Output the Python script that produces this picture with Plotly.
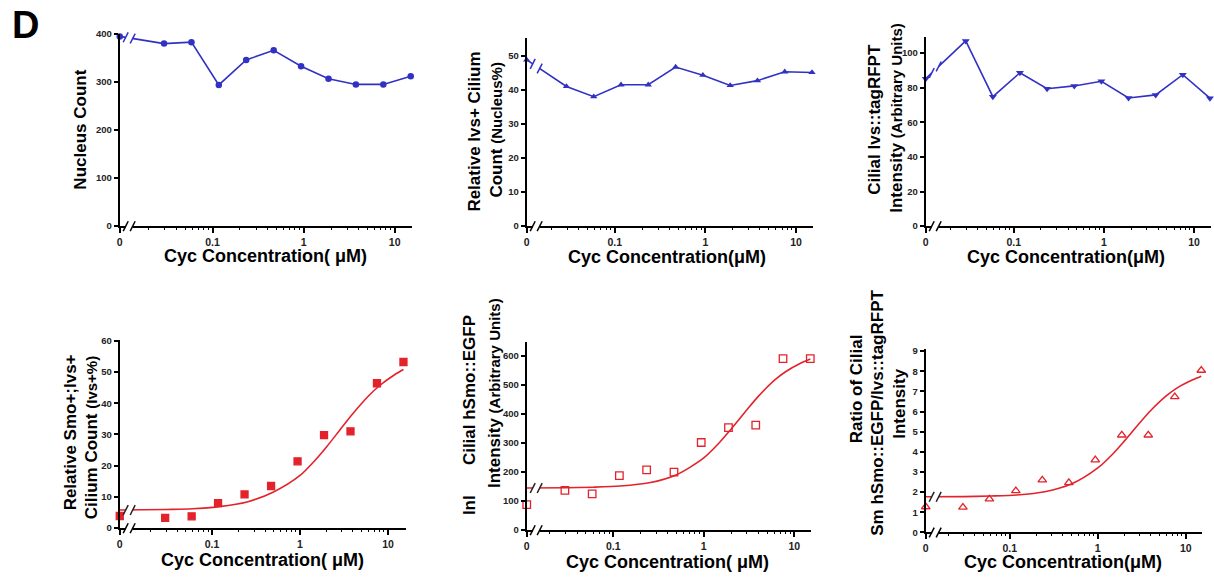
import math
import plotly.graph_objects as go

W, H = 1214, 583

# ---------------- data ----------------
conc = [0, 0.0293, 0.0586, 0.117, 0.234, 0.469, 0.9375, 1.875, 3.75, 7.5, 15]
nucleus_count = [395, 380, 383, 294, 346, 366, 333, 307, 295, 295, 312]
ivs_cilium_pct = [48.8, 41.0, 38.0, 41.5, 41.5, 46.7, 44.3, 41.3, 42.7, 45.3, 45.1]
ivs_rfpt_intensity = [85.2, 107.0, 74.8, 88.6, 79.4, 81.0, 83.7, 74.0, 75.8, 87.5, 73.9]
smo_ivs_pct = [3.9, 3.3, 3.8, 8.0, 10.8, 13.5, 21.4, 29.8, 31.0, 46.4, 53.2]
hsmo_egfp_intensity = [88, 137, 125, 188, 208, 200, 302, 353, 362, 591, 591]
ratio_egfp_rfpt = [1.27, 1.25, 1.66, 2.07, 2.60, 2.47, 3.60, 4.83, 4.83, 6.73, 8.04]

fit_conc = [0, 0.03, 0.06, 0.12, 0.25, 0.5, 1, 1.5, 2, 3, 4, 6, 8, 12, 15]
fit_smo_ivs = [5.8, 6.0, 6.2, 6.9, 8.4, 11.6, 16.9, 21.9, 26.0, 32.3, 36.7, 42.3, 45.6, 49.2, 50.8]
fit_hsmo = [145, 146, 148, 152, 163, 191, 249, 303, 348, 415, 461, 516, 546, 577, 590]
fit_ratio = [1.77, 1.78, 1.81, 1.86, 2.02, 2.40, 3.20, 3.92, 4.53, 5.44, 6.05, 6.77, 7.17, 7.57, 7.75]

x_tick_labels = ["0", "0.1", "1", "10"]
x_minor_ticks = [m * d for d in (0.01, 0.1, 1) for m in range(2, 10)]
x_title = "Cyc Concentration"

BLUE = "#3131c4"
RED = "#e3232b"
FONT = "Arial, Liberation Sans, sans-serif"

panels = [
    dict(xpx=(117, 410), ypx=(29, 225), xr=(-2.02, 1.19), yr=(0, 401),
         yt=[0, 100, 200, 300, 400], y=nucleus_count, color=BLUE, sym="circle", ms=6.5, fit=None),
    dict(xpx=(525, 812), ypx=(33.3, 225), xr=(-1.972, 1.187), yr=(0, 55.3),
         yt=[0, 10, 20, 30, 40, 50], y=ivs_cilium_pct, color=BLUE, sym="triangle-up", ms=6.5, fit=None),
    dict(xpx=(925, 1211), ypx=(33, 225), xr=(-1.977, 1.188), yr=(0, 109),
         yt=[0, 20, 40, 60, 80, 100], y=ivs_rfpt_intensity, color=BLUE, sym="triangle-down", ms=7, fit=None),
    dict(xpx=(117, 404), ypx=(341, 532.3), xr=(-2.05, 1.205), yr=(0, 60.2),
         yt=[0, 10, 20, 30, 40, 50, 60], y=smo_ivs_pct, color=RED, sym="square", ms=7, fit=fit_smo_ivs),
    dict(xpx=(525, 810), ypx=(343, 534.3), xr=(-1.955, 1.184), yr=(0, 648),
         yt=[0, 100, 200, 300, 400, 500, 600], y=hsmo_egfp_intensity, color=RED, sym="square-open", ms=7.5, fit=fit_hsmo),
    dict(xpx=(925, 1202), ypx=(350, 536.7), xr=(-1.956, 1.185), yr=(0, 9.1),
         yt=list(range(10)), y=ratio_egfp_rfpt, color=RED, sym="triangle-up-open", ms=7.5, fit=fit_ratio),
]

fig = go.Figure()
shapes = []
annotations = []


def px_to_paper(xp, yp):
    return xp / W, 1 - yp / H


def slash(xp, yp, color):
    ax, ay = px_to_paper(xp - 2.5, yp + 5)
    bx, by = px_to_paper(xp + 2.5, yp - 5)
    shapes.append(dict(type="line", xref="paper", yref="paper", x0=ax, y0=ay, x1=bx, y1=by,
                       line=dict(color=color, width=1.5), layer="above"))


NP = len(panels)
for i, p in enumerate(panels, 1):
    sx = "" if i == 1 else str(i)
    xref, yref = "x" + sx, "y" + sx
    mref = "x" + str(i + NP)          # overlay axis carrying the minor ticks
    zero_pos = 10 ** (p["xr"][0] + 0.0004)
    xs = [zero_pos if c == 0 else c for c in conc]
    if p["fit"] is None:
        fig.add_trace(go.Scatter(x=xs, y=p["y"], mode="lines+markers", xaxis=xref, yaxis=yref,
                                 line=dict(color=p["color"], width=1.6),
                                 marker=dict(symbol=p["sym"], size=p["ms"], color=p["color"]),
                                 cliponaxis=False, showlegend=False))
    else:
        fx = [zero_pos if c == 0 else c for c in fit_conc]
        fig.add_trace(go.Scatter(x=fx, y=p["fit"], mode="lines", xaxis=xref, yaxis=yref,
                                 line=dict(color=RED, width=1.6, shape="spline", smoothing=0.8),
                                 cliponaxis=False, showlegend=False))
        fig.add_trace(go.Scatter(x=xs, y=p["y"], mode="markers", xaxis=xref, yaxis=yref,
                                 marker=dict(symbol=p["sym"], size=p["ms"], color=RED,
                                             line=dict(color=RED, width=1.3)),
                                 cliponaxis=False, showlegend=False))
    # empty trace to instantiate the minor-tick overlay axis
    fig.add_trace(go.Scatter(x=[], y=[], xaxis=mref, yaxis=yref, showlegend=False, hoverinfo="skip"))

    x0p, x1p = p["xpx"]
    y0p, y1p = p["ypx"]
    tickfont = dict(family=FONT, size=9.5, color="#222", weight="bold")
    fig.layout["xaxis" + sx] = dict(
        type="log", domain=[x0p / W, x1p / W], range=list(p["xr"]), anchor=yref,
        showline=True, linecolor="black", linewidth=2, ticks="outside", ticklen=5,
        tickwidth=1.5, tickcolor="black", tickmode="array", tickvals=[zero_pos, 0.1, 1, 10],
        ticktext=x_tick_labels, tickfont=dict(family=FONT, size=10.5, color="#222", weight="bold"),
        showgrid=False, zeroline=False)
    fig.layout["xaxis" + str(i + NP)] = dict(
        type="log", overlaying=xref, range=list(p["xr"]), anchor=yref, side="bottom",
        showline=False, ticks="outside", ticklen=3, tickwidth=1.2, tickcolor="black",
        tickmode="array", tickvals=x_minor_ticks, showticklabels=False,
        showgrid=False, zeroline=False)
    fig.layout["yaxis" + sx] = dict(
        domain=[1 - y1p / H, 1 - y0p / H], range=list(p["yr"]), anchor=xref,
        showline=True, linecolor="black", linewidth=2, ticks="outside", ticklen=4,
        tickwidth=1.5, tickcolor="black", tickvals=p["yt"], tickfont=tickfont,
        showgrid=False, zeroline=False)

    # ---- axis-break decoration (pixel geometry of this panel) ----
    pxdec = (x1p - x0p) / (p["xr"][1] - p["xr"][0])
    g0, g1 = x0p + 6, x0p + 13

    def val_to_py(v):
        return y1p - (v - p["yr"][0]) / (p["yr"][1] - p["yr"][0]) * (y1p - y0p)

    rx0, ry0 = px_to_paper(g0, y1p + 4)
    rx1, ry1 = px_to_paper(g1, y0p - 4)
    shapes.append(dict(type="rect", xref="paper", yref="paper", x0=rx0, x1=rx1, y0=ry0, y1=ry1,
                       fillcolor="white", line=dict(width=0), layer="above"))
    if p["fit"] is None:
        xa = x0p
        xb = x0p + (math.log10(xs[1]) - p["xr"][0]) * pxdec
        ya, yb = val_to_py(p["y"][0]), val_to_py(p["y"][1])
        line_y = [ya + (g - xa) / (xb - xa) * (yb - ya) for g in (g0, g1)]
        lc = p["color"]
    else:
        line_y = [val_to_py(p["fit"][0])] * 2
        lc = "#222"
    for g, ly in zip((g0, g1), line_y):
        slash(g, y1p, "black")
        slash(g, ly, lc)


def ann(text, xp, yp, size, angle=0):
    annotations.append(dict(text=text, x=xp / W, y=1 - yp / H, xref="paper", yref="paper",
                            xanchor="center", yanchor="middle", showarrow=False, textangle=angle,
                            font=dict(family=FONT, size=size, color="black")))


SM = "<span style='font-size:15px'>"
# y titles
ann("<b>Nucleus Count</b>", 78, 127, 17, -90)
ann("<b>Relative Ivs+ Cilium</b>", 473, 129, 17, -90)
ann("<b>Count </b>" + SM + "<b>(Nucleus%)</b></span>", 495, 127, 17, -90)
ann("<b>Cilial Ivs::tagRFPT</b>", 873, 116, 17, -90)
ann("<b>Intensity </b>" + SM + "<b>(Arbitrary Units)</b></span>", 895, 115, 17, -90)
ann("<b>Relative Smo+;Ivs+</b>", 68, 435, 17, -90)
ann("<b>Cilium Count </b>" + SM + "<b>(Ivs+%)</b></span>", 89, 440, 17, -90)
ann("<b>Cilial hSmo::EGFP</b>", 467, 392, 17, -90)
ann("<b>Inl</b>", 467, 509, 17, -90)
ann("<b>Intensity </b>" + SM + "<b>(Arbitrary Units)</b></span>", 492, 395, 17, -90)
ann("<b>Ratio of Cilial</b>", 855, 390, 17, -90)
ann("<b>Sm hSmo::EGFP/Ivs::tagRFPT</b>", 877, 415, 17, -90)
ann("<b>Intensity</b>", 898, 406, 17, -90)

# x titles
ann("<b>" + x_title + "( μM)</b>", 263, 255, 18)
ann("<b>" + x_title + "(μM)</b>", 666, 256, 18)
ann("<b>" + x_title + "(μM)</b>", 1066, 256, 18)
ann("<b>" + x_title + "( μM)</b>", 260, 565, 18)
ann("<b>" + x_title + "( μM)</b>", 666, 567, 18)
ann("<b>" + x_title + "(μM)</b>", 1063, 567, 18)

# panel letter
ann("<b>D</b>", 23, 20, 38)

fig.update_layout(width=W, height=H, margin=dict(l=0, r=0, t=0, b=0),
                  paper_bgcolor="white", plot_bgcolor="white",
                  shapes=shapes, annotations=annotations, showlegend=False)

fig.write_html("out.html", config={"displayModeBar": False},
               post_script="document.body.style.margin='0';document.body.style.overflow='hidden';")
